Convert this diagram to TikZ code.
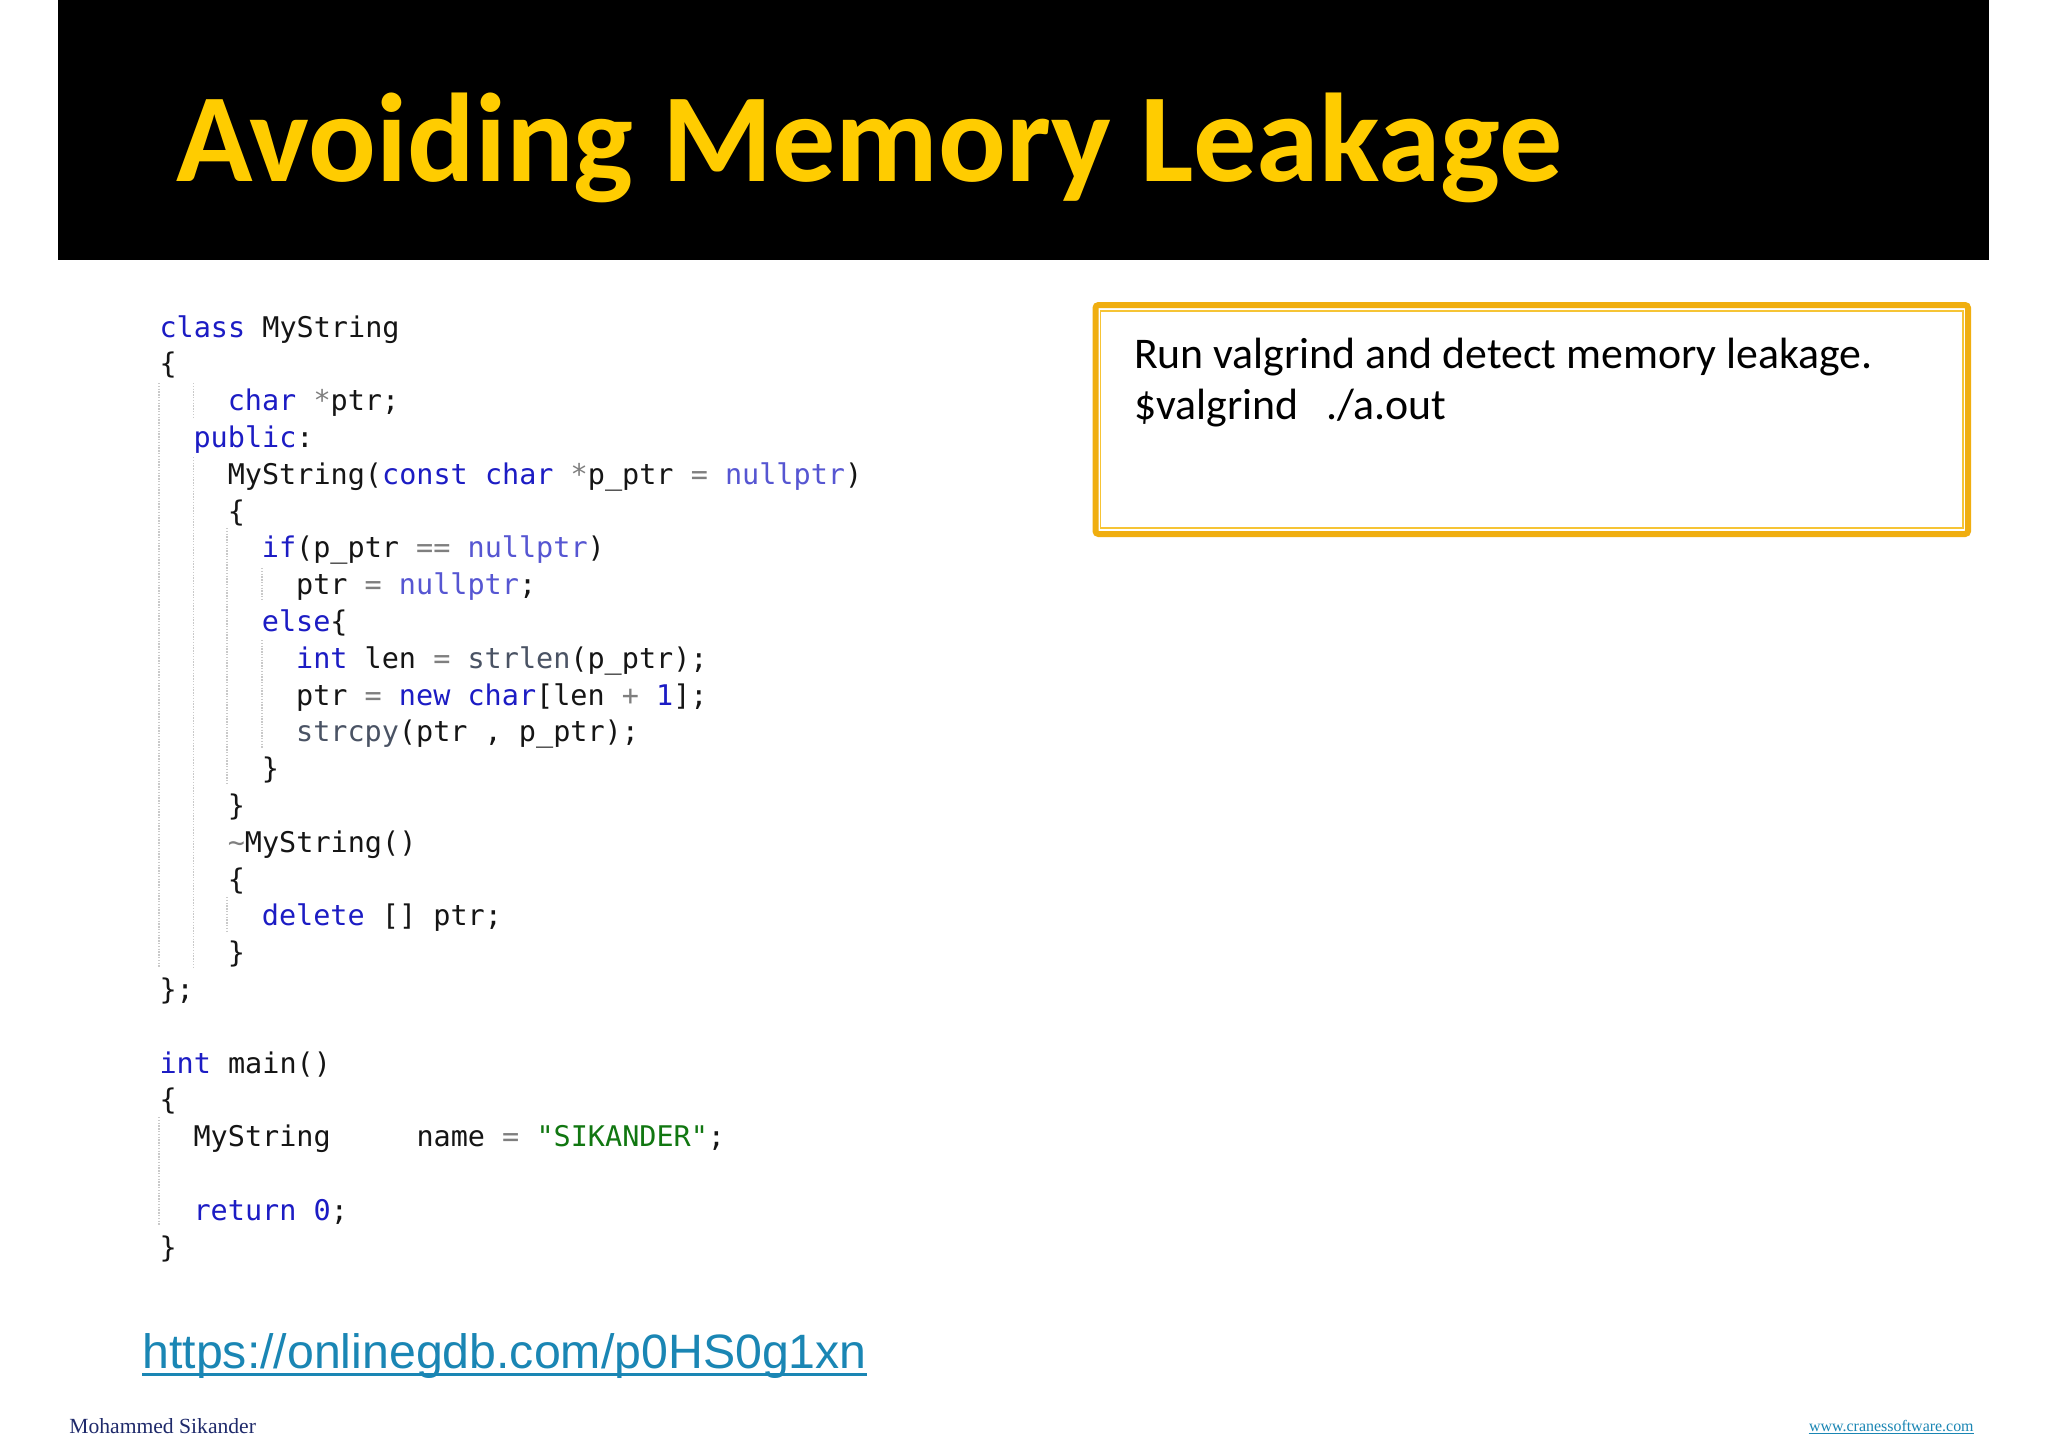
\documentclass[tikz,border=0pt]{standalone}
\usepackage{fontspec}
\setmainfont{Carlito}
\newfontfamily\codefont{DejaVu Sans Mono}
\newfontfamily\urlfont{Liberation Sans}
\newfontfamily\footfont{Liberation Serif}
\definecolor{kwc}{HTML}{1C1CC4}
\definecolor{nullc}{HTML}{5656D2}
\definecolor{opc}{HTML}{7F7F7F}
\definecolor{fnc}{HTML}{4A5364}
\definecolor{strc}{HTML}{117711}
\definecolor{txtc}{HTML}{151515}
\definecolor{gold}{HTML}{FFCC00}
\definecolor{boxo}{HTML}{F0AE10}
\definecolor{boxi}{HTML}{F6C435}
\definecolor{linkc}{HTML}{1A86B4}
\definecolor{navy}{HTML}{1F2A6B}
\definecolor{guide}{HTML}{C9C9C9}
\newcommand{\kw}[1]{\textcolor{kwc}{#1}}
\newcommand{\nl}[1]{\textcolor{nullc}{#1}}
\newcommand{\op}[1]{\textcolor{opc}{#1}}
\newcommand{\fn}[1]{\textcolor{fnc}{#1}}
\tikzset{
  x=0.5pt,y=-0.5pt,
  code/.style={anchor=base west,inner sep=0pt,outer sep=0pt,text=txtc,font=\codefont\fontsize{14.24pt}{16pt}\selectfont},
  boxtext/.style={anchor=base west,inner sep=0pt,outer sep=0pt,text=black,font=\fontsize{21.9pt}{25pt}\selectfont},
  indent/.style={draw=guide,line width=0.55pt,dash pattern=on 0.7pt off 0.7pt},
}
\begin{document}
\begin{tikzpicture}
\useasboundingbox (0,0) rectangle (2048,1448);
\fill[white] (0,0) rectangle (2048,1448);
% banner
\fill[black] (58,0) rectangle (1989,260);
\node[anchor=base west,inner sep=0pt,text=gold,font=\fontsize{63.1pt}{70pt}\selectfont\bfseries] (title) at (176,181) {Avoiding Memory Leakage};
% indent guides
\draw[indent] (159,383) -- (159,968);
\draw[indent] (193.7,383) -- (193.7,418);
\draw[indent] (193.7,457) -- (193.7,968);
\draw[indent] (227,528) -- (227,785);
\draw[indent] (227,897) -- (227,932);
\draw[indent] (262,568) -- (262,600);
\draw[indent] (262,640) -- (262,748);
\draw[indent] (159,1117) -- (159,1225);
% code
\begin{scope}[xshift=-0.5pt,yshift=-0.5pt]
\node[code] (l00) at (160.5,336.0) {\kw{class} MyString};
\node[code] (l01) at (160.5,372.8) {\{};
\node[code] (l02) at (228.8,409.6) {\kw{char} \op{*}ptr;};
\node[code] (l03) at (194.6,446.4) {\kw{public}:};
\node[code] (l04) at (228.8,483.2) {MyString(\kw{const} \kw{char} \op{*}p\_ptr \op{=} \nl{nullptr})};
\node[code] (l05) at (228.8,520.0) {\{};
\node[code] (l06) at (262.9,556.8) {\kw{if}(p\_ptr \op{==} \nl{nullptr})};
\node[code] (l07) at (297.1,593.6) {ptr \op{=} \nl{nullptr};};
\node[code] (l08) at (262.9,630.4) {\kw{else}\{};
\node[code] (l09) at (297.1,667.2) {\kw{int} len \op{=} \fn{strlen}(p\_ptr);};
\node[code] (l10) at (297.1,704.0) {ptr \op{=} \kw{new} \kw{char}[len \op{+} \kw{1}];};
\node[code] (l11) at (297.1,740.8) {\fn{strcpy}(ptr , p\_ptr);};
\node[code] (l12) at (262.9,777.6) {\}};
\node[code] (l13) at (228.8,814.4) {\}};
\node[code] (l14) at (228.8,851.2) {\op{\char"007E}MyString()};
\node[code] (l15) at (228.8,888.0) {\{};
\node[code] (l16) at (262.9,924.8) {\kw{delete} [] ptr;};
\node[code] (l17) at (228.8,961.6) {\}};
\node[code] (l18) at (160.5,998.4) {\};};
\node[code] (l20) at (160.5,1072.0) {\kw{int} main()};
\node[code] (l21) at (160.5,1108.8) {\{};
\node[code] (l22) at (194.6,1145.6) {MyString~~~~~name \op{=} \textcolor{strc}{"SIKANDER"};};
\node[code] (l24) at (194.6,1219.2) {\kw{return} \kw{0};};
\node[code] (l25) at (160.5,1256.0) {\}};
\end{scope}
% box
\draw[boxo,line width=3pt,rounded corners=1.5pt] (1095.5,305) rectangle (1968,534);
\draw[boxi,line width=0.9pt] (1100.5,311) rectangle (1963,528);
\node[boxtext] (b1) at (1134,368) {Run valgrind and detect memory leakage.};
\node[boxtext] (b2) at (1134,419) {\$valgrind};
\node[boxtext] (b3) at (1326,419) {./a.out};
% link
\node[anchor=base west,inner sep=0pt,text=linkc,font=\urlfont\fontsize{24.13pt}{28pt}\selectfont] (url) at (142,1368.5) {https://onlinegdb.com/p0HS0g1xn};
\draw[linkc,line width=1.5pt] ([yshift=-3pt]url.base west) -- ([yshift=-3pt]url.base east);
% footer
\node[anchor=base west,inner sep=0pt,text=navy,font=\footfont\fontsize{10.8pt}{13pt}\selectfont] (author) at (69,1433.5) {Mohammed Sikander};
\node[anchor=base east,inner sep=0pt,text=linkc,font=\footfont\fontsize{7.97pt}{10pt}\selectfont] (site) at (1974,1431.5) {www.cranessoftware.com};
\draw[linkc,line width=0.5pt] ([yshift=-1pt]site.base west) -- ([yshift=-1pt]site.base east);
\end{tikzpicture}
\end{document}
